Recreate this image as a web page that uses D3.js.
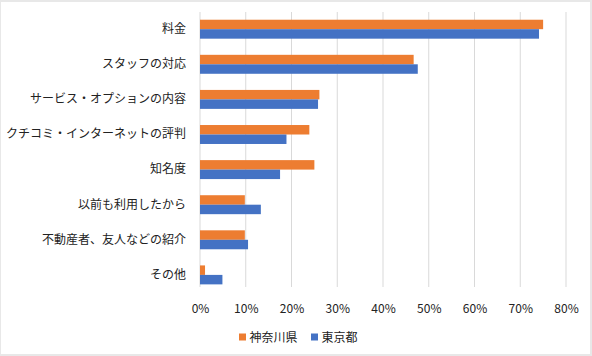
<!DOCTYPE html>
<html><head><meta charset="utf-8">
<script src="https://cdn.jsdelivr.net/npm/d3@7"></script>
<style>body{margin:0;background:#fff}svg{display:block}text{font-family:"Noto Sans CJK JP","Noto Sans",sans-serif;fill:#222}</style>
</head><body>
<script>
const categories = ["料金","スタッフの対応","サービス・オプションの内容","クチコミ・インターネットの評判","知名度","以前も利用したから","不動産者、友人などの紹介","その他"];
const kanagawa = [75.0, 46.7, 26.1, 23.9, 25.0, 9.8, 9.8, 1.1];
const tokyo = [74.1, 47.6, 25.8, 18.9, 17.5, 13.3, 10.5, 4.9];
const seriesNames = ["神奈川県","東京都"];
const colors = ["#ED7D31","#4472C4"];
const xTicks = [0,10,20,30,40,50,60,70,80];

const W=592,H=356;
const svg=d3.select("body").append("svg").attr("width",W).attr("height",H);
svg.append("rect").attr("x",0).attr("y",0).attr("width",W).attr("height",H).attr("fill","#e8e8e8");
svg.append("rect").attr("x",1).attr("y",2).attr("width",589).attr("height",352).attr("fill","#fff");

const plotTop=12, plotBottom=287;
const x=d3.scaleLinear().domain([0,80]).range([200,566]);
const step=35.1, pi=0.46, po=0.22;
const y=d3.scaleBand().domain(categories).range([plotTop, plotTop+step*(categories.length-pi+2*po)]).paddingInner(pi).paddingOuter(po);
const ys=d3.scaleBand().domain([0,1]).range([0,y.bandwidth()]);

svg.append("g").selectAll("line").data(xTicks).join("line")
  .attr("x1",d=>x(d)).attr("x2",d=>x(d)).attr("y1",plotTop).attr("y2",plotBottom)
  .attr("stroke","#d9d9d9").attr("stroke-width",1);

const data=[kanagawa,tokyo];
data.forEach((vals,si)=>{
  svg.append("g").selectAll("rect").data(vals).join("rect")
    .attr("x",x(0)).attr("y",(d,i)=>y(categories[i])+ys(si))
    .attr("width",d=>x(d)-x(0)).attr("height",ys.bandwidth())
    .attr("fill",colors[si]);
});

const yAxis=d3.axisLeft(y).tickSize(0).tickPadding(14);
const gy=svg.append("g").attr("transform",`translate(200,0)`).call(yAxis);
gy.select(".domain").remove();
gy.selectAll("text").style("font-size","12px").style("fill","#222");

const xAxis=d3.axisBottom(x).tickValues(xTicks).tickFormat(d=>d+"%").tickSize(0).tickPadding(17);
const gx=svg.append("g").attr("transform",`translate(0,${plotBottom})`).call(xAxis);
gx.select(".domain").remove();
gx.selectAll("text").style("font-size","12px").style("fill","#222");

const legX=[239,311];
seriesNames.forEach((n,i)=>{
  svg.append("rect").attr("x",legX[i]).attr("y",333.5).attr("width",7).attr("height",7).attr("fill",colors[i]);
  svg.append("text").attr("x",legX[i]+10.5).attr("y",341.5).style("font-size","12px").text(n);
});
</script>
</body></html>
